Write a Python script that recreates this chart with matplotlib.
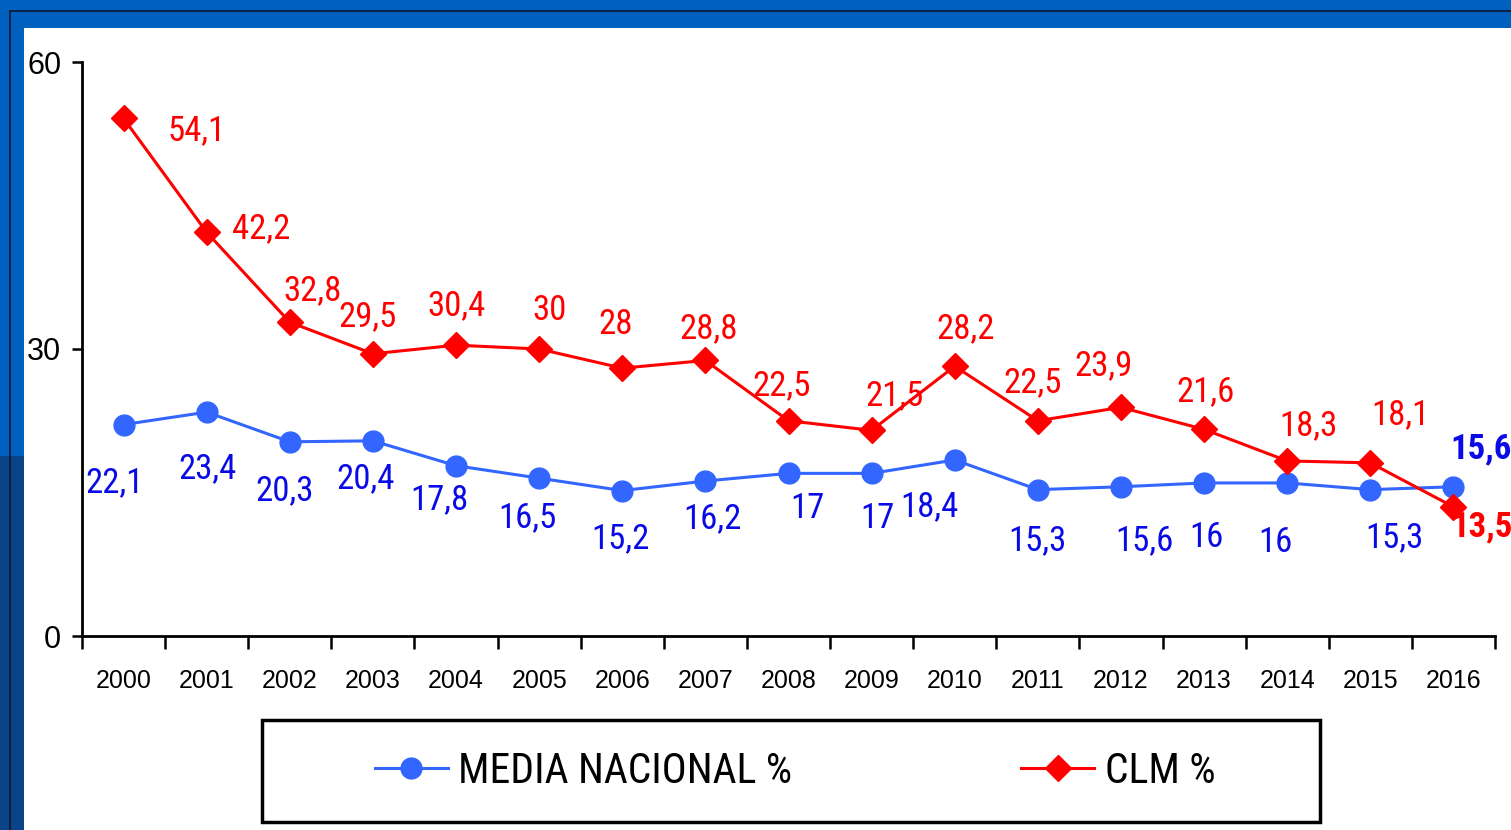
import matplotlib
matplotlib.use("Agg")
import matplotlib.pyplot as plt
from matplotlib.patches import Rectangle
from matplotlib.lines import Line2D

NARROW = ["Roboto Condensed", "Archivo Narrow", "Liberation Sans", "DejaVu Sans"]
REGULAR = ["Liberation Sans", "DejaVu Sans"]
plt.rcParams["font.family"] = NARROW

years = ["2000", "2001", "2002", "2003", "2004", "2005", "2006", "2007", "2008",
         "2009", "2010", "2011", "2012", "2013", "2014", "2015", "2016"]
media = [22.1, 23.4, 20.3, 20.4, 17.8, 16.5, 15.2, 16.2, 17, 17, 18.4, 15.3, 15.6, 16, 16, 15.3, 15.6]
clm = [54.1, 42.2, 32.8, 29.5, 30.4, 30, 28, 28.8, 22.5, 21.5, 28.2, 22.5, 23.9, 21.6, 18.3, 18.1, 13.5]

# label offsets in pixels (dx, dy up)
clm_off = [(73, -12), (55, 4), (23, 32), (-5, 37), (0, 39), (10, 39), (-7, 44), (3, 32), (-7, 35),
           (23, 35), (11, 38), (-5, 38), (-17, 42), (1, 38), (21, 35), (30, 48), (29, -20)]
media_off = [(-9, -58), (1, -57), (-5, -49), (-7, -38), (-17, -34), (-12, -40), (-2, -48), (7, -38),
             (19, -35), (6, -45), (-25, -47), (0, -51), (24, -54), (2, -55), (-12, -60), (24, -48), (28, 38)]

BLUE_LINE = "#3366FF"
BLUE_TXT = "#0A0AE6"
RED = "#FF0000"

fig = plt.figure(figsize=(15.11, 8.30), dpi=100)
fig.patch.set_facecolor("#0060C0")

# darker strip at lower left of the slide background
fig.patches.append(Rectangle((0, 0), 24 / 1511, 0.45, transform=fig.transFigure,
                             facecolor="#0A4488", edgecolor="none", zorder=-3))
# white panel and thin dark frame
fig.patches.append(Rectangle((24 / 1511, 0), 1, (830 - 28) / 830, transform=fig.transFigure,
                             facecolor="white", edgecolor="none", zorder=-2))
fig.patches.append(Rectangle((10 / 1511, -0.1), 1.1, (830 - 11) / 830 + 0.1, transform=fig.transFigure,
                             facecolor="none", edgecolor="#101830", linewidth=1.2, zorder=-2))

ax = fig.add_axes([82 / 1511, 1 - 636 / 830, (1495 - 82) / 1511, (636 - 62) / 830])
ax.set_facecolor("none")
ax.set_zorder(2)

x = list(range(len(years)))
ax.plot(x, media, color=BLUE_LINE, lw=2.2, marker="o", markersize=15, markeredgecolor=BLUE_LINE,
        zorder=3, clip_on=False)
ax.plot(x, clm, color=RED, lw=2.2, marker="D", markersize=13, markeredgecolor=RED, zorder=4,
        clip_on=False)

for i, v in enumerate(clm):
    last = i == len(clm) - 1
    ax.annotate(f"{v:g}".replace(".", ","), (i, v), xytext=(clm_off[i][0] * 0.72, clm_off[i][1] * 0.72),
                textcoords="offset points", ha="center", va="center", color=RED,
                fontsize=25, fontweight="bold" if last else "normal", annotation_clip=False)
for i, v in enumerate(media):
    last = i == len(media) - 1
    ax.annotate(f"{v:g}".replace(".", ","), (i, v), xytext=(media_off[i][0] * 0.72, media_off[i][1] * 0.72),
                textcoords="offset points", ha="center", va="center", color=BLUE_TXT,
                fontsize=25, fontweight="bold" if last else "normal", annotation_clip=False)

ax.set_xlim(-0.5, len(years) - 0.5)
ax.set_ylim(0, 60)
ax.set_yticks([0, 30, 60])
ax.tick_params(axis="y", labelsize=22, length=7, width=1.8, pad=8)
ax.set_xticks([i - 0.5 for i in range(len(years) + 1)])
ax.set_xticklabels([])
ax.set_xticks(x, minor=True)
ax.set_xticklabels(years, minor=True)
ax.tick_params(axis="x", which="major", length=9, width=1.8)
ax.tick_params(axis="x", which="minor", length=0, labelsize=18, pad=24)
for lab in ax.get_yticklabels() + ax.get_xticklabels(minor=True):
    lab.set_family(REGULAR)
for s in ["top", "right"]:
    ax.spines[s].set_visible(False)
for s in ["left", "bottom"]:
    ax.spines[s].set_linewidth(2)

# legend box
fig.patches.append(Rectangle((262 / 1511, 1 - 822 / 830), (1320 - 262) / 1511, (822 - 720) / 830,
                             transform=fig.transFigure, facecolor="white", edgecolor="black",
                             linewidth=2.5, zorder=1))
handles = [Line2D([], [], color=BLUE_LINE, lw=2.2, marker="o", markersize=15),
           Line2D([], [], color=RED, lw=2.2, marker="D", markersize=13)]
fig.legend(handles, ["MEDIA NACIONAL %", "CLM %"], loc="center", bbox_to_anchor=(795 / 1511, 1 - 771 / 830),
           ncol=2, frameon=False, fontsize=30, handlelength=1.75, handletextpad=0.25, columnspacing=5.5)

fig.savefig("out.png", dpi=100, facecolor=fig.get_facecolor())
